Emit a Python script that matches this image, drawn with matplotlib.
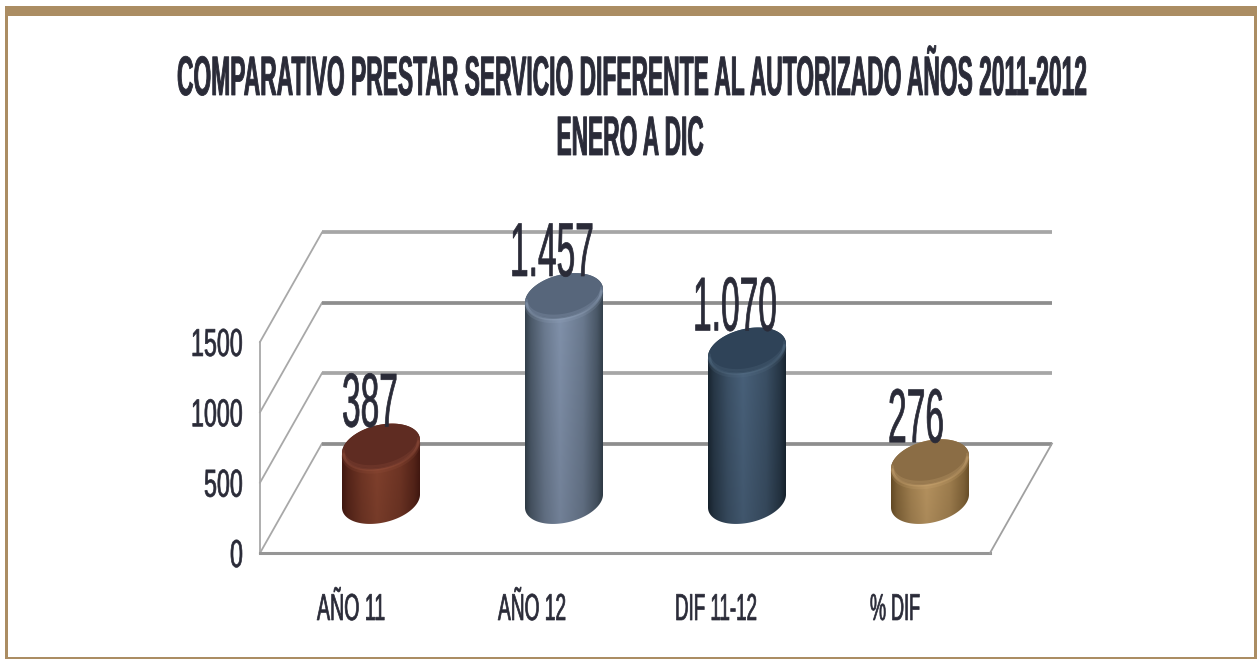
import numpy as np
import matplotlib
matplotlib.use('Agg')
import matplotlib.pyplot as plt
from matplotlib.colors import to_rgb
from matplotlib.patches import Polygon, Rectangle
from matplotlib.patheffects import AbstractPathEffect
from matplotlib.transforms import Affine2D

title_lines = ['COMPARATIVO PRESTAR SERVICIO DIFERENTE AL AUTORIZADO AÑOS 2011-2012', 'ENERO A DIC']
categories = ['AÑO 11', 'AÑO 12', 'DIF 11-12', '% DIF']
values = [387, 1457, 1070, 276]
value_labels = ['387', '1.457', '1.070', '276']
y_ticks = [0, 500, 1000, 1500]
edge_colors = ['#471a12', '#36434f', '#1a2733', '#6e5229']
mid_colors = ['#88442f', '#8495af', '#4b647e', '#c39d66']
top_colors = ['#5f2c22', '#57667b', '#2f4358', '#8b6d45']
rim_colors = ['#9a5440', '#98a9c0', '#5a7389', '#d2ad78']

W, H = 1260, 659
PX_X = 183.0       # pixels per category
PX_Y = 0.1407      # pixels per value unit
TEXT = '#2a2b38'
GOLD = '#ab8d63'


# the reference text is a stretched picture of Arial: tall and thin
class Stretch(AbstractPathEffect):
    def __init__(self, sx, sy, cx, cy, lw):
        super().__init__()
        self.sx, self.sy, self.cx, self.cy, self.lw = sx, sy, cx, cy, lw

    def draw_path(self, renderer, gc, tpath, affine, rgbFace=None):
        t = affine + Affine2D().translate(-self.cx, -self.cy).scale(self.sx, self.sy).translate(self.cx, self.cy)
        gc0 = renderer.new_gc()
        gc0.copy_properties(gc)
        gc0.set_linewidth(self.lw)
        gc0.set_foreground(TEXT)
        renderer.draw_path(gc0, tpath, t, rgbFace)
        gc0.restore()


def xd(px):
    return (px - 381) / PX_X


def yd(py):
    return (553 - py) / PX_Y


def label(x, y, s, size, width, weight='normal', lw=0.5):
    t = ax.text(x, y, s, fontsize=size / 2, fontweight=weight, color=TEXT, ha='center', va='baseline',
                family=['Liberation Sans', 'DejaVu Sans'], zorder=10)
    fig.canvas.draw()
    ext = t.get_window_extent()
    cx, cy = ax.transData.transform((x, y))
    t.set_path_effects([Stretch(width / ext.width, 2, cx, cy, lw)])
    return t


fig = plt.figure(figsize=(W / 100, H / 100), dpi=100)
ax = fig.add_axes([0, 0, 1, 1])
ax.set_xlim(xd(0), xd(W))
ax.set_ylim(yd(H), yd(0))
ax.axis('off')

# frame
for px, py, w, h in [(5, 6, 1252, 10), (5, 6, 3, 653), (1254, 6, 3, 653), (5, 657, 1252, 2)]:
    ax.add_patch(Rectangle((xd(px), yd(py + h)), w / PX_X, h / PX_Y, color=GOLD, lw=0, zorder=1))

# walls and grid lines
depth_x = 62 / PX_X
depth_y = 109.5 / PX_Y
floor_right = xd(990)
for i, v in enumerate(y_ticks):
    ax.plot([xd(260), xd(260) + depth_x], [v, v + depth_y], color='#a8a8a8', lw=1.3, zorder=2)
    c = '#a6a6a6' if i in (1, 3) else '#8e8e8e'
    ax.plot([xd(260) + depth_x, floor_right + depth_x], [v + depth_y, v + depth_y], color=c, lw=2.7, zorder=2,
            solid_capstyle='butt')
ax.plot([xd(260), xd(260)], [0, 1500], color='#a8a8a8', lw=1.3, zorder=2)
ax.plot([xd(260), floor_right], [0, 0], color='#969696', lw=2.2, zorder=2)
ax.plot([floor_right, floor_right + depth_x], [0, depth_y], color='#a0a0a0', lw=1.3, zorder=2)

# cylinders
t = np.linspace(0, 2 * np.pi, 181)
a = 39 / PX_X
ex = a * np.cos(t)
ey = (6.5 * np.cos(t) + 22 * np.sin(t)) / PX_Y
base = 52 / PX_Y
profile = np.interp(np.linspace(0, 1, 80), [0, 0.07, 0.25, 0.45, 0.75, 0.93, 1], [0, 0.3, 0.72, 1, 0.7, 0.28, 0])
fade = np.linspace(1, 0.85, 60)[:, None, None]
label_dx = [-11, -12, -12, -14]
for i, v in enumerate(values):
    top = v + base
    upper = t <= np.pi
    lower = t >= np.pi
    body_x = np.r_[i + ex[lower], i + ex[upper]]
    body_y = np.r_[base + ey[lower], top + ey[upper]]
    body = Polygon(np.c_[body_x, body_y], closed=True, transform=ax.transData, fc='none', ec='none')
    ax.add_patch(body)
    edge, mid = np.array(to_rgb(edge_colors[i])), np.array(to_rgb(mid_colors[i]))
    img = (edge + profile[:, None] * (mid - edge))[None, :, :] * fade
    im = ax.imshow(img, aspect='auto', zorder=4, extent=[i - a, i + a, base - 40 / PX_Y, top + 40 / PX_Y])
    im.set_clip_path(body)
    ax.fill(i + ex, top + ey, color=top_colors[i], lw=0, zorder=5)
    # soft light band along the front of the top face
    for off, lw, al in [(-3, 3.0, 0.18), (-1, 2.0, 0.3), (2, 2.0, 0.22)]:
        ax.plot(i + 0.96 * ex[lower], top + off / PX_Y + 0.96 * ey[lower], color=rim_colors[i], lw=lw, alpha=al,
                zorder=6, solid_capstyle='round')
    label(i + label_dx[i] / PX_X, top + 20 / PX_Y, value_labels[i], 55, 56 if len(value_labels[i]) == 3 else 84)

ax.set_xlim(xd(0), xd(W))
ax.set_ylim(yd(H), yd(0))

# title, tick labels
label(xd(631.5), yd(95), title_lines[0], 40, 909, 'bold', 0.6)
label(xd(630), yd(155), title_lines[1], 40, 147, 'bold', 0.6)
for v in y_ticks:
    s = str(v)
    label(xd(243 - 13 * len(s) / 2), v - 14 / PX_Y, s, 28, 13 * len(s))
for i, c in enumerate(categories):
    label(i + [-30, -32, -31, -35][i] / PX_X, yd(620), c, 27, [68, 68, 82, 50][i])

fig.savefig('out.png', dpi=100)
